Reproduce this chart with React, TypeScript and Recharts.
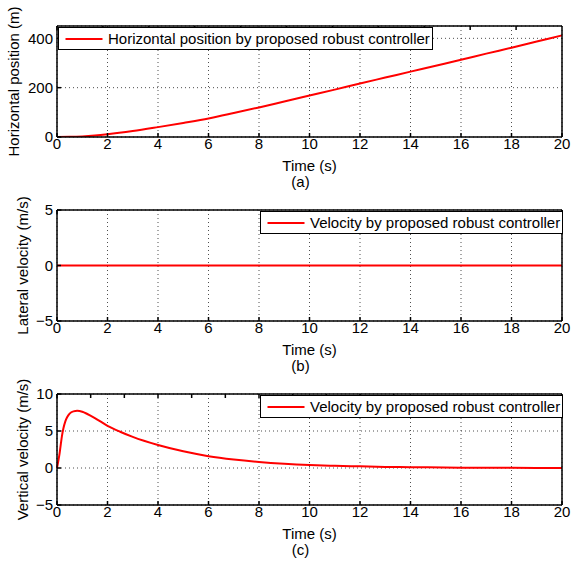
import React from 'react';
import { LineChart, Line, XAxis, YAxis, CartesianGrid, Legend } from 'recharts';

// Shared time axis
const timeTicks = [0, 2, 4, 6, 8, 10, 12, 14, 16, 18, 20];

// (a) horizontal position (m)
const posTime = [0, 0.5, 1, 1.5, 2, 3, 4, 5, 6, 7, 8, 9, 10, 11, 12, 13, 14, 15, 16, 17, 18, 19, 20];
const posValues = [0, 0.6, 2.5, 6, 11, 24, 40, 57, 75, 97, 120, 144, 168, 192, 217, 241, 265, 289, 313, 338, 362, 387, 412];
const posTicks = [0, 200, 400];

// (b) lateral velocity (m/s)
const latTime = [0, 5, 10, 15, 20];
const latValues = [0, 0, 0, 0, 0];
const latTicks = [-5, 0, 5];

// (c) vertical velocity (m/s)
const vertTime = [0, 0.05, 0.1, 0.15, 0.2, 0.25, 0.33, 0.4, 0.5, 0.65, 0.8, 1, 1.2, 1.5, 2, 2.5, 3, 4, 5, 6, 7, 8, 9, 10, 11, 12, 13, 14, 16, 18, 20];
const vertValues = [0, 0.9, 1.9, 3.2, 4.4, 5.3, 6.3, 6.85, 7.35, 7.65, 7.72, 7.6, 7.3, 6.75, 5.7, 4.9, 4.2, 3.1, 2.25, 1.6, 1.15, 0.82, 0.58, 0.41, 0.3, 0.22, 0.15, 0.11, 0.05, 0.02, 0.01];
const vertTicks = [-5, 0, 5, 10];

const FONT = '"Liberation Sans", Arial, Helvetica, sans-serif';
const FS = 15;
const fmt = (v: number) => (v < 0 ? '\u2212' + Math.abs(v) : String(v));

type PanelProps = {
  top: number;
  times: number[];
  values: number[];
  name: string;
  yDomain: [number, number];
  yTicks: number[];
  yLabel: string;
  yLabelGap: number;
  caption: string;
  legendLeft: number;
  legendWidth: number;
};

function LegendBox(props: any) {
  const item = props.payload && props.payload[0];
  if (!item) return null;
  return (
    <div
      style={{
        boxSizing: 'border-box',
        height: 23,
        border: '1.5px solid #000',
        background: '#fff',
        display: 'flex',
        alignItems: 'center',
        fontFamily: FONT,
        fontSize: FS,
        color: '#000',
        whiteSpace: 'nowrap',
      }}
    >
      <svg width={49} height={10} style={{ flex: 'none' }}>
        <line x1={6.5} x2={43.5} y1={5} y2={5} stroke={item.color} strokeWidth={2} />
      </svg>
      <span>{item.value}</span>
    </div>
  );
}

function Panel(p: PanelProps) {
  const data = p.times.map((t, i) => ({ t, v: p.values[i] }));
  const xLabel = (props: any) => {
    const vb = props.viewBox;
    const cx = vb.x + vb.width / 2;
    return (
      <g fontFamily={FONT} fontSize={FS} fill="#000">
        <text x={cx} y={vb.y + 34} textAnchor="middle">Time (s)</text>
        <text x={cx - 9} y={vb.y + 50} textAnchor="middle">{p.caption}</text>
      </g>
    );
  };
  const yLabel = (props: any) => {
    const vb = props.viewBox;
    const cx = vb.x + vb.width - p.yLabelGap;
    const cy = vb.y + vb.height / 2;
    return (
      <text
        x={cx}
        y={cy}
        transform={`rotate(-90 ${cx} ${cy})`}
        textAnchor="middle"
        dominantBaseline="central"
        fontFamily={FONT}
        fontSize={FS}
        fill="#000"
      >
        {p.yLabel}
      </text>
    );
  };
  const tickStyle = { fill: '#000', fontSize: FS, fontFamily: FONT };
  return (
    <div style={{ position: 'absolute', left: 0, top: p.top }}>
      <LineChart width={572} height={196} data={data} margin={{ top: 25, right: 9, bottom: 58, left: 56 }}>
        <CartesianGrid stroke="#222" strokeDasharray="1 3" strokeWidth={0.8} />
        <XAxis
          dataKey="t"
          type="number"
          domain={[0, 20]}
          ticks={timeTicks}
          interval={0}
          height={1}
          tickSize={-4}
          tickMargin={5}
          stroke="#000"
          strokeWidth={1.5}
          tick={tickStyle}
          label={{ content: xLabel }}
        />
        <XAxis
          xAxisId="top"
          orientation="top"
          type="number"
          domain={[0, 20]}
          ticks={timeTicks}
          interval={0}
          height={1}
          tickSize={-4}
          stroke="#000"
          strokeWidth={1.5}
          tickFormatter={() => ''}
        />
        <YAxis
          type="number"
          domain={p.yDomain}
          ticks={p.yTicks}
          interval={0}
          width={1}
          tickSize={-4}
          tickMargin={8}
          stroke="#000"
          strokeWidth={1.5}
          tick={tickStyle}
          tickFormatter={fmt}
          allowDataOverflow
          label={{ content: yLabel }}
        />
        <YAxis
          yAxisId="right"
          orientation="right"
          type="number"
          domain={p.yDomain}
          ticks={p.yTicks}
          interval={0}
          width={1}
          tickSize={-4}
          stroke="#000"
          strokeWidth={1.5}
          tickFormatter={() => ''}
        />
        <Legend
          layout="horizontal"
          verticalAlign="middle"
          align="center"
          content={LegendBox}
          wrapperStyle={{ left: p.legendLeft, top: 27, width: p.legendWidth, height: 23 }}
        />
        <Line
          dataKey="v"
          name={p.name}
          type="monotone"
          stroke="#ff0000"
          strokeWidth={2}
          dot={false}
          activeDot={false}
          isAnimationActive={false}
        />
      </LineChart>
    </div>
  );
}

export default function App() {
  return (
    <div style={{ position: 'absolute', left: 0, top: 0, width: 572, height: 564, background: '#fff' }}>
      <Panel
        top={0}
        times={posTime}
        values={posValues}
        name="Horizontal position by proposed robust controller"
        yDomain={[0, 450]}
        yTicks={posTicks}
        yLabel="Horizontal position (m)"
        yLabelGap={44}
        caption="(a)"
        legendLeft={58}
        legendWidth={375}
      />
      <Panel
        top={184}
        times={latTime}
        values={latValues}
        name="Velocity by proposed robust controller"
        yDomain={[-5, 5]}
        yTicks={latTicks}
        yLabel="Lateral velocity (m/s)"
        yLabelGap={35}
        caption="(b)"
        legendLeft={260}
        legendWidth={303}
      />
      <Panel
        top={368}
        times={vertTime}
        values={vertValues}
        name="Velocity by proposed robust controller"
        yDomain={[-5, 10]}
        yTicks={vertTicks}
        yLabel="Vertical velocity (m/s)"
        yLabelGap={35}
        caption="(c)"
        legendLeft={260}
        legendWidth={303}
      />
    </div>
  );
}
